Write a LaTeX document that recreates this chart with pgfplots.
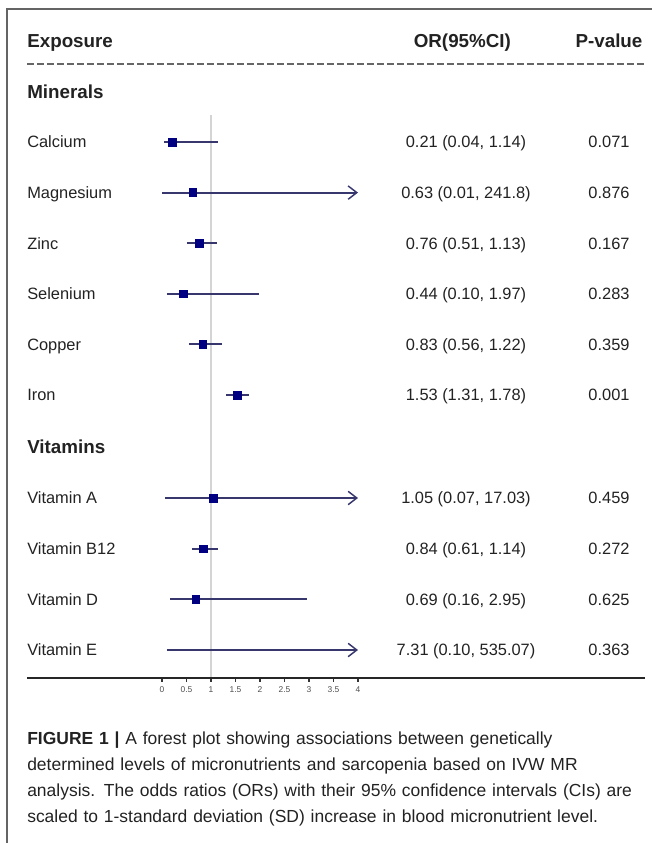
\documentclass[border=0pt]{standalone}
\usepackage{pgfplots}
\pgfplotsset{compat=1.18}
\usepackage{fontspec}
\setmainfont{Liberation Sans}
\usetikzlibrary{arrows.meta}
\definecolor{txt}{RGB}{34,34,34}
\definecolor{cil}{RGB}{55,55,110}
\definecolor{sq}{RGB}{0,0,128}
\definecolor{frame}{RGB}{100,100,100}
\definecolor{refl}{RGB}{212,212,212}
\newcommand{\lab}{\fontsize{12.3}{14}\selectfont}
\newcommand{\hdr}{\fontsize{14.1}{16}\selectfont\bfseries}
\begin{document}
\begin{tikzpicture}
\begin{axis}[
  width=489pt, height=632.25pt, scale only axis,
  xmin=-3.30612, xmax=10, ymin=0, ymax=843, y dir=reverse,
  axis lines=none, clip=false,
  nodes={text=txt, inner sep=0pt},
]
% frame
\draw[frame, line width=1.1pt] (axis cs:-3.1633,843) -- (axis cs:-3.1633,9) -- (axis cs:10,9);
% dashed separator
\draw[black!60, line width=0.9pt, dash pattern=on 5pt off 2.5pt] (axis cs:-2.755,64) -- (axis cs:9.857,64);
% reference line at OR = 1
\addplot[refl, line width=1.1pt] coordinates {(1,115) (1,678)};
% headers (baseline = centre + 6.7)
\node[anchor=base west, font=\hdr] at (axis cs:-2.755,47.7) {Exposure};
\node[anchor=base, font=\hdr] at (axis cs:6.13,47.7) {OR(95\%CI)};
\node[anchor=base, font=\hdr] at (axis cs:9.122,47.7) {P-value};
\node[anchor=base west, font=\hdr] at (axis cs:-2.755,98.7) {Minerals};
\node[anchor=base west, font=\hdr] at (axis cs:-2.755,453.7) {Vitamins};
% row labels (baseline = centre + 5.9)
\node[anchor=base west, font=\lab] at (axis cs:-2.755,147.9) {Calcium};
\node[anchor=base west, font=\lab] at (axis cs:-2.755,198.5) {Magnesium};
\node[anchor=base west, font=\lab] at (axis cs:-2.755,249.1) {Zinc};
\node[anchor=base west, font=\lab] at (axis cs:-2.755,299.7) {Selenium};
\node[anchor=base west, font=\lab] at (axis cs:-2.755,350.3) {Copper};
\node[anchor=base west, font=\lab] at (axis cs:-2.755,400.9) {Iron};
\node[anchor=base west, font=\lab] at (axis cs:-2.755,503.9) {Vitamin A};
\node[anchor=base west, font=\lab] at (axis cs:-2.755,554.6) {Vitamin B12};
\node[anchor=base west, font=\lab] at (axis cs:-2.755,605.3) {Vitamin D};
\node[anchor=base west, font=\lab] at (axis cs:-2.755,655.9) {Vitamin E};
% OR column
\node[anchor=base, font=\lab] at (axis cs:6.204,147.9) {0.21 (0.04, 1.14)};
\node[anchor=base, font=\lab] at (axis cs:6.204,198.5) {0.63 (0.01, 241.8)};
\node[anchor=base, font=\lab] at (axis cs:6.204,249.1) {0.76 (0.51, 1.13)};
\node[anchor=base, font=\lab] at (axis cs:6.204,299.7) {0.44 (0.10, 1.97)};
\node[anchor=base, font=\lab] at (axis cs:6.204,350.3) {0.83 (0.56, 1.22)};
\node[anchor=base, font=\lab] at (axis cs:6.204,400.9) {1.53 (1.31, 1.78)};
\node[anchor=base, font=\lab] at (axis cs:6.204,503.9) {1.05 (0.07, 17.03)};
\node[anchor=base, font=\lab] at (axis cs:6.204,554.6) {0.84 (0.61, 1.14)};
\node[anchor=base, font=\lab] at (axis cs:6.204,605.3) {0.69 (0.16, 2.95)};
\node[anchor=base, font=\lab] at (axis cs:6.204,655.9) {7.31 (0.10, 535.07)};
% P-value column
\node[anchor=base, font=\lab] at (axis cs:9.122,147.9) {0.071};
\node[anchor=base, font=\lab] at (axis cs:9.122,198.5) {0.876};
\node[anchor=base, font=\lab] at (axis cs:9.122,249.1) {0.167};
\node[anchor=base, font=\lab] at (axis cs:9.122,299.7) {0.283};
\node[anchor=base, font=\lab] at (axis cs:9.122,350.3) {0.359};
\node[anchor=base, font=\lab] at (axis cs:9.122,400.9) {0.001};
\node[anchor=base, font=\lab] at (axis cs:9.122,503.9) {0.459};
\node[anchor=base, font=\lab] at (axis cs:9.122,554.6) {0.272};
\node[anchor=base, font=\lab] at (axis cs:9.122,605.3) {0.625};
\node[anchor=base, font=\lab] at (axis cs:9.122,655.9) {0.363};
% confidence intervals
\pgfplotsset{ci/.style={cil, line width=1.4pt}, cia/.style={cil, line width=1.4pt, -{Straight Barb[length=6.5pt,width=10pt,line width=1.1pt]}}}
\addplot[ci] coordinates {(0.04,142) (1.14,142)};
\addplot[cia] coordinates {(0.01,192.6) (4,192.6)};
\addplot[ci] coordinates {(0.51,243.2) (1.13,243.2)};
\addplot[ci] coordinates {(0.10,293.8) (1.97,293.8)};
\addplot[ci] coordinates {(0.56,344.4) (1.22,344.4)};
\addplot[ci] coordinates {(1.31,395) (1.78,395)};
\addplot[cia] coordinates {(0.07,498) (4,498)};
\addplot[ci] coordinates {(0.61,548.7) (1.14,548.7)};
\addplot[ci] coordinates {(0.16,599.4) (2.95,599.4)};
\addplot[cia] coordinates {(0.10,650) (4,650)};
% point estimates (only those inside the 0-4 display range)
\addplot[only marks, mark=square*, mark size=2.9pt, sq, restrict x to domain=0:4] coordinates {
(0.21,142) (0.63,192.6) (0.76,243.2) (0.44,293.8) (0.83,344.4) (1.53,395)
(1.05,498) (0.84,548.7) (0.69,599.4) (7.31,650)};
% caption
\node[anchor=base west, text width=470pt, align=left, font=\fontsize{13.1}{19.5}\selectfont] at (axis cs:-2.755,744)
{\textbf{FIGURE 1 |} A forest plot showing associations between genetically\\
determined levels of micronutrients and sarcopenia based on IVW MR\\
analysis. The odds ratios (ORs) with their 95\% confidence intervals (CIs) are\\
scaled to 1-standard deviation (SD) increase in blood micronutrient level.};
\end{axis}
\begin{axis}[
  at={(20.25pt,123.75pt)}, anchor=south west,
  width=463.5pt, height=1pt, scale only axis,
  xmin=-2.7551, xmax=9.857, ymin=0, ymax=1,
  axis x line=bottom, hide y axis, axis line style={-, black!85, line width=1.3pt},
  xtick={0,0.5,1,1.5,2,2.5,3,3.5,4},
  xticklabels={0,0.5,1,1.5,2,2.5,3,3.5,4},
  tick align=outside, major tick length=3pt,
  tick style={black!80, line width=0.8pt},
  xticklabel style={font=\fontsize{6.3}{7}\selectfont, text=txt!80},
  /pgf/number format/assume math mode=true,
]
\end{axis}
\pgfresetboundingbox
\useasboundingbox (0,0) rectangle (489pt,632.25pt);
\end{tikzpicture}
\end{document}
